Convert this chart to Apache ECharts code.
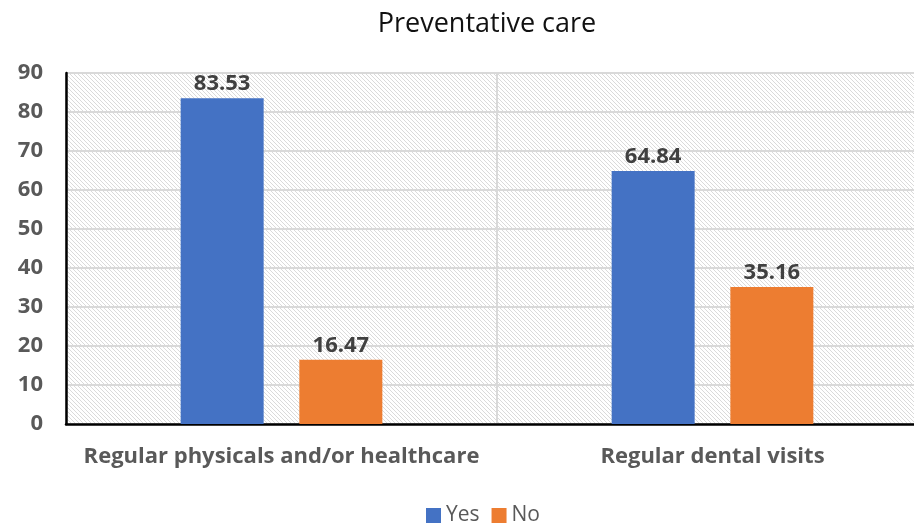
<!DOCTYPE html>
<html>
<head>
<meta charset="utf-8">
<script src="https://cdn.jsdelivr.net/npm/echarts@6/dist/echarts.min.js"></script>
<style>
  html, body { margin: 0; padding: 0; background: #fff; overflow: hidden; }
  #wrap { width: 914px; height: 523px; overflow: hidden; }
  /* plot runs slightly past the right edge of the view */
  #chart { width: 928px; height: 523px; }
</style>
</head>
<body>
<div id="wrap"><div id="chart"></div></div>
<script>
const categories = ['Regular physicals and/or healthcare', 'Regular dental visits'];
const yesValues = [83.53, 64.84];
const noValues = [16.47, 35.16];
const yTicks = { min: 0, max: 90, interval: 10 };

// light diagonal hatch for the plot background
function hatchPattern() {
  const s = 4;
  const c = document.createElement('canvas');
  c.width = s; c.height = s;
  const g = c.getContext('2d');
  g.fillStyle = '#ffffff';
  g.fillRect(0, 0, s, s);
  g.strokeStyle = '#dadada';
  g.lineWidth = 1;
  g.beginPath();
  g.moveTo(-1, -1); g.lineTo(s + 1, s + 1);
  g.moveTo(-1, s - 1); g.lineTo(1, s + 1);
  g.moveTo(s - 1, -1); g.lineTo(s + 1, 1);
  g.stroke();
  return c;
}

const chart = echarts.init(document.getElementById('chart'));
const font = '"Open Sans", "Noto Sans", sans-serif';
const labelStyle = {
  show: true, position: 'top', distance: 3,
  fontSize: 22, fontWeight: 'bold', color: '#404040', fontFamily: font
};
chart.setOption({
  animation: false,
  textStyle: { fontFamily: font },
  title: {
    text: 'Preventative care',
    left: 482, textAlign: 'center', top: 6,
    textStyle: { fontSize: 27, fontWeight: 'normal', color: '#111', fontFamily: font }
  },
  legend: {
    top: 500, left: 421,
    itemWidth: 15, itemHeight: 15, itemGap: 12,
    icon: 'rect',
    textStyle: { fontSize: 21, color: '#595959', fontFamily: font }
  },
  grid: {
    left: 66, right: 0, top: 73, bottom: 99,
    show: true,
    backgroundColor: { image: hatchPattern(), repeat: 'repeat' },
    borderWidth: 0
  },
  xAxis: {
    type: 'category',
    data: categories,
    axisLine: { lineStyle: { color: '#000', width: 2.5 } },
    axisTick: { show: false },
    splitLine: { show: true, interval: 0, lineStyle: { color: '#d9d9d9', width: 2 } },
    axisLabel: {
      interval: 0,
      margin: 22, fontSize: 22, fontWeight: 'bold', color: '#595959', fontFamily: font
    }
  },
  yAxis: {
    type: 'value',
    min: yTicks.min, max: yTicks.max, interval: yTicks.interval,
    axisLine: { show: true, lineStyle: { color: '#000', width: 2.5 } },
    axisTick: { show: false },
    splitLine: { lineStyle: { color: '#d9d9d9', width: 2 } },
    axisLabel: {
      margin: 23, fontSize: 22, fontWeight: 'bold', color: '#595959', fontFamily: font
    }
  },
  series: [
    {
      name: 'Yes', type: 'bar', data: yesValues,
      barWidth: 83, barGap: '43%',
      itemStyle: { color: '#4472C4' },
      label: labelStyle
    },
    {
      name: 'No', type: 'bar', data: noValues,
      barWidth: 83,
      itemStyle: { color: '#ED7D31' },
      label: labelStyle
    }
  ]
});
</script>
</body>
</html>
